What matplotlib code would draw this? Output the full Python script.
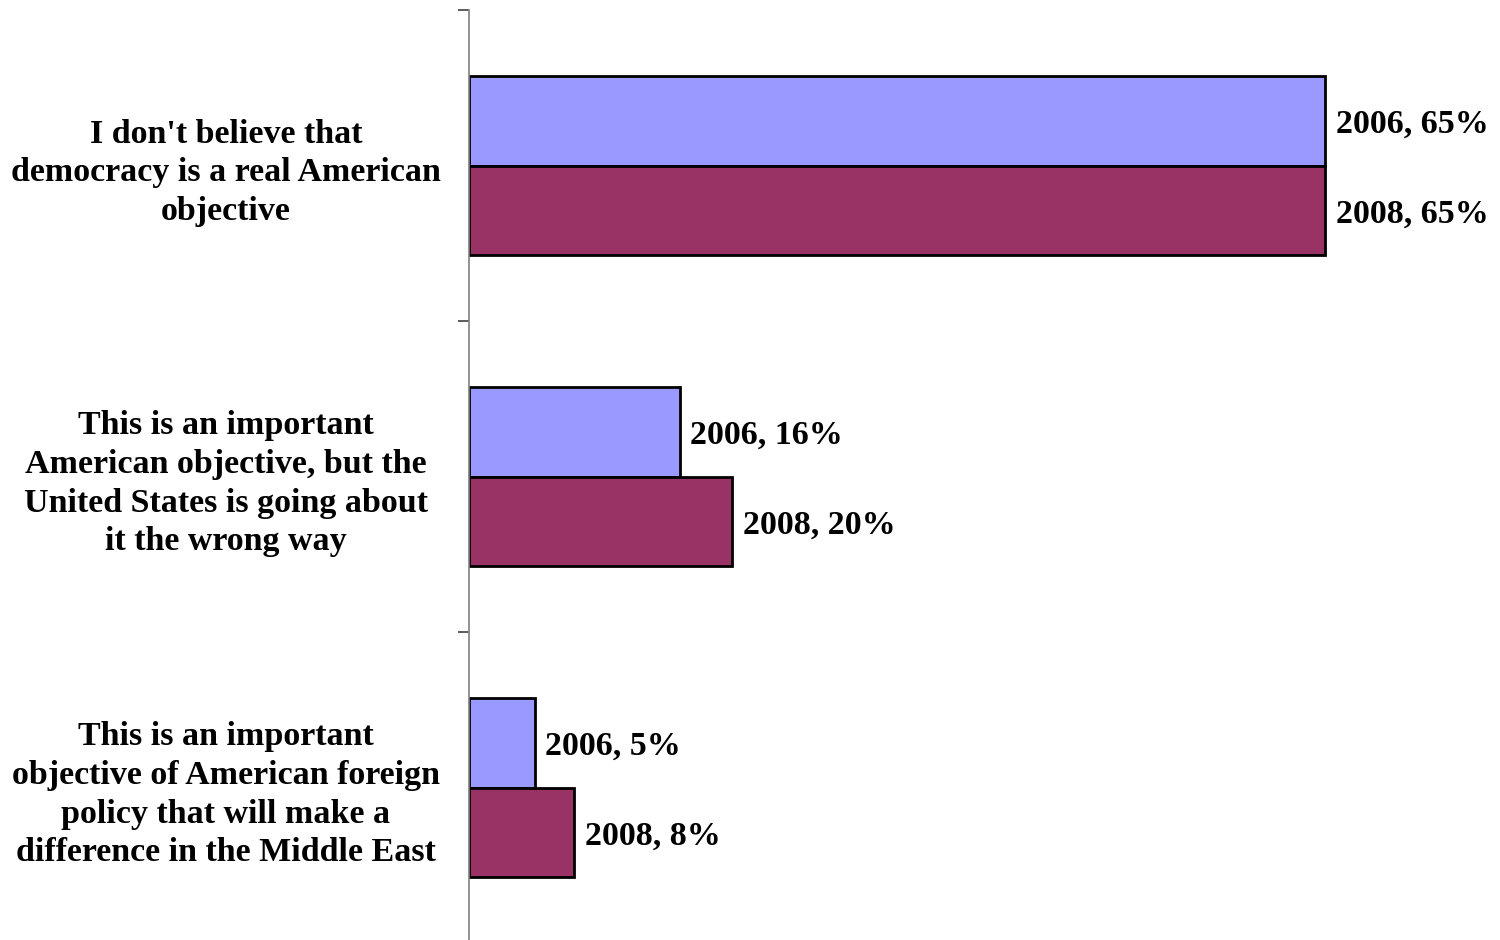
import numpy as np
import matplotlib.pyplot as plt

categories = [
    "I don't believe that\ndemocracy is a real American\nobjective",
    "This is an important\nAmerican objective, but the\nUnited States is going about\nit the wrong way",
    "This is an important\nobjective of American foreign\npolicy that will make a\ndifference in the Middle East",
]
years = ["2006", "2008"]
values_2006 = [65, 16, 5]
values_2008 = [65, 20, 8]

colors = ["#9999FF", "#993366"]
font = ["Liberation Serif", "DejaVu Serif"]

fig = plt.figure(figsize=(15, 9.4), dpi=100)
ax = fig.add_axes([469 / 1500, -3 / 940, 1031 / 1500, 933 / 940])

y = np.arange(len(categories))
h = 0.288
for k, (vals, yr) in enumerate([(values_2006, years[0]), (values_2008, years[1])]):
    off = -h / 2 if k == 0 else h / 2
    ax.barh(y + off, vals, height=h, color=colors[k], edgecolor="black", linewidth=2)
    for yi, v in zip(y + off, vals):
        ax.text(v + 0.8, yi, f"{yr}, {v}%", va="center_baseline", ha="left",
                fontsize=24.5, fontweight="bold", family=font)

ax.set_xlim(0, 1031 / 13.17)
ax.set_ylim(len(categories) - 0.5, -0.5)

for s in ["top", "right", "bottom"]:
    ax.spines[s].set_visible(False)
ax.spines["left"].set_color("#808080")
ax.spines["left"].set_linewidth(1.2)
ax.set_xticks([])

ax.set_yticks(np.arange(len(categories) + 1) - 0.5)
ax.set_yticklabels([])
ax.tick_params(axis="y", which="major", direction="out", length=8, color="#404040", width=1.2)
ax.set_yticks(y, minor=True)
ax.set_yticklabels(categories, minor=True, ha="center", multialignment="center",
                   fontsize=24.5, fontweight="bold", family=font, linespacing=1.32)
ax.tick_params(axis="y", which="minor", length=0, pad=175)

fig.savefig("out.png", dpi=100)
